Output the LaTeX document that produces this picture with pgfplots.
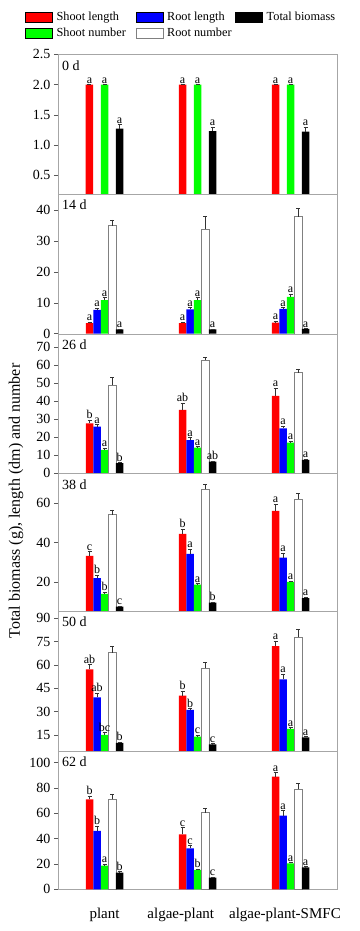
\documentclass[border=0pt]{standalone}
\usepackage{fontspec}
\setmainfont{Liberation Serif}
\usepackage{pgfplots}
\usepackage{pgfplotstable}
\pgfplotsset{compat=1.18}
\definecolor{cR}{RGB}{255,0,0}
\definecolor{cB}{RGB}{0,0,255}
\definecolor{cG}{RGB}{0,255,0}

% x: 0 plant, 1 algae-plant, 2 algae-plant-SMFC
\pgfplotstableread{
x sl sle sll sn sne snl bm bme bml
0 2.0 0 a 2.0 0 a 1.27 0.07 a
1 2.0 0 a 2.0 0 a 1.23 0.07 a
2 2.0 0 a 2.0 0 a 1.22 0.08 a
}\dA
\pgfplotstableread{
x sl sle sll rl rle rll sn sne snl rn rne bm bme bml
0 3.4 0.4 a 7.7 0.6 a 10.9 0.8 a 35.0 1.8 1.4 0.1 a
1 3.4 0.4 a 7.9 0.5 a 10.9 0.8 a 33.9 4.1 1.4 0.1 a
2 3.6 0.5 a 8.0 0.5 a 11.9 0.9 a 37.9 2.7 1.6 0.1 a
}\dB
\pgfplotstableread{
x sl sle sll rl rle rll sn sne snl rn rne bm bme bml
0 27.8 1.9 b  26.0 1.0 a 13.0 1.0 a 49.0 4.4 5.6 0.5 b
1 35.2 3.8 ab 18.5 1.5 a 14.3 0.7 a 63.1 1.5 6.5 0.4 ab
2 43.0 4.3 a  25.0 1.2 a 17.0 0.8 a 56.0 2.0 7.4 0.4 a
}\dC
\pgfplotstableread{
x sl sle sll rl rle rll sn sne snl rn rne bm bme bml
0 33.2 2.2 c 21.9 1.6 b 13.9 0.8 b 54.2 2.4 7.4 0.4 c
1 44.4 2.4 b 34.2 2.4 a 18.6 0.5 a 67.1 2.5 9.5 0.3 b
2 56.1 3.4 a 32.3 2.3 a 20.0 0.5 a 62.2 2.9 11.8 0.6 a
}\dD
\pgfplotstableread{
x sl sle sll rl rle rll sn sne snl rn rne bm bme bml
0 57.2 3.2 ab 39.2 2.6 ab 15.0 1.5 bc 67.9 3.9 10.0 0.4 b
1 40.3 3.0 b  31.1 1.0 b  13.9 1.0 c  57.9 3.8 9.0 0.4 c
2 72.2 3.2 a  50.8 3.4 a  18.9 0.8 a  77.8 5.1 13.5 0.6 a
}\dE
\pgfplotstableread{
x sl sle sll rl rle rll sn sne snl rn rne bm bme bml
0 71.1 2.6 b 46.1 3.9 b 18.7 1.1 a 71.1 4.2 13.2 0.8 b
1 43.4 5.3 c 32.4 2.0 c 15.3 0.8 b 60.5 3.7 9.2 0.6 c
2 88.9 3.2 a 58.1 4.0 a 20.5 0.8 a 79.0 4.7 17.4 0.6 a
}\dF

\tikzset{plab/.style={anchor=north west, inner sep=0pt, xshift=4pt, yshift=-6pt, font=\fontsize{14}{14}\selectfont}}
\pgfplotsset{
 panel/.style={scale only axis, width=279pt, xmin=-0.5, xmax=2.5, ybar, bar width=7.5pt,
   xtick=\empty, axis line style={gray!70}, ytick pos=left, tick align=outside,
   major tick length=4pt, tick style={gray!70!black, line width=0.5pt},
   tick label style={font=\fontsize{14}{14}\selectfont},
   /pgf/number format/assume math mode=true, anchor=north west},
 errb/.style={error bars/y dir=plus, error bars/y explicit,
   error bars/error bar style={gray!40!black, line width=0.5pt},
   error bars/error mark options={rotate=90, mark size=2pt, gray!40!black, line width=0.5pt}},
 lab/.style={nodes near coords, point meta=explicit symbolic,
   visualization depends on={\thisrow{#1} \as \myerr},
   every node near coord/.append style={shift={(axis direction cs:0,\myerr)}, anchor=south,
     inner sep=0.5pt, yshift=0.5pt, font=\fontsize{12}{12}\selectfont, text=black}},
 sL/.style={fill=cR, draw=none, bar shift=-15pt},
 rL/.style={fill=cB, draw=none, bar shift=-7.5pt},
 sN/.style={fill=cG, draw=none, bar shift=0pt},
 rN/.style={fill=white, draw=gray, bar shift=7.5pt},
 bM/.style={fill=black, draw=none, bar shift=15pt},
 sw/.style={/pgfplots/legend image code/.code={\draw[##1] (0pt,-5pt) rectangle (27pt,5pt);}},
}

\begin{document}
\begin{tikzpicture}
\path[use as bounding box] (0pt,0pt) rectangle (359pt,-931pt);

% 0 d
\begin{axis}[panel, at={(58pt,-54.3pt)}, height=139.7pt, ymin=0.19, ymax=2.5,
  ytick={0.5,1.0,1.5,2.0,2.5},
  yticklabel style={/pgf/number format/.cd, fixed, fixed zerofill, precision=1},
  legend columns=3,
  legend style={at={(-0.1183,1.303)}, anchor=north west, draw=none, fill=none,
    inner sep=0pt, row sep=5pt, font=\fontsize{12.3}{12.3}\selectfont,
    nodes={inner sep=0pt},
    /tikz/every odd column/.append style={column sep=4pt},
    /tikz/column 2/.append style={column sep=9.7pt},
    /tikz/column 4/.append style={column sep=3.7pt}},
  legend cell align=left]
\addplot[sL, errb, lab=sle, forget plot] table[x=x, y=sl, y error=sle, meta=sll] {\dA};
\addplot[sN, errb, lab=sne, forget plot] table[x=x, y=sn, y error=sne, meta=snl] {\dA};
\addplot[bM, errb, lab=bme, forget plot] table[x=x, y=bm, y error=bme, meta=bml] {\dA};
\addlegendimage{sw, fill=cR, draw=none}\addlegendentry{Shoot length}
\addlegendimage{sw, fill=cB, draw=none}\addlegendentry{Root length}
\addlegendimage{sw, fill=black, draw=none}\addlegendentry{Total biomass}
\addlegendimage{sw, fill=cG, draw=none}\addlegendentry{Shoot number}
\addlegendimage{sw, fill=white, draw=gray}\addlegendentry{Root number}
\node[plab] at (rel axis cs:0,1) {0 d};
\end{axis}

% 14 d
\begin{axis}[panel, at={(58pt,-194pt)}, height=139.7pt, ymin=0, ymax=45.2,
  ytick={0,10,20,30,40}]
\addplot[sL, errb, lab=sle] table[x=x, y=sl, y error=sle, meta=sll] {\dB};
\addplot[rL, errb, lab=rle] table[x=x, y=rl, y error=rle, meta=rll] {\dB};
\addplot[sN, errb, lab=sne] table[x=x, y=sn, y error=sne, meta=snl] {\dB};
\addplot[rN, errb] table[x=x, y=rn, y error=rne] {\dB};
\addplot[bM, errb, lab=bme] table[x=x, y=bm, y error=bme, meta=bml] {\dB};
\node[plab] at (rel axis cs:0,1) {14 d};
\end{axis}

% 26 d
\begin{axis}[panel, at={(58pt,-333.7pt)}, height=139.6pt, ymin=0, ymax=77.6,
  ytick={0,10,20,30,40,50,60,70}]
\addplot[sL, errb, lab=sle] table[x=x, y=sl, y error=sle, meta=sll] {\dC};
\addplot[rL, errb, lab=rle] table[x=x, y=rl, y error=rle, meta=rll] {\dC};
\addplot[sN, errb, lab=sne] table[x=x, y=sn, y error=sne, meta=snl] {\dC};
\addplot[rN, errb] table[x=x, y=rn, y error=rne] {\dC};
\addplot[bM, errb, lab=bme] table[x=x, y=bm, y error=bme, meta=bml] {\dC};
\node[plab] at (rel axis cs:0,1) {26 d};
\end{axis}

% 38 d
\begin{axis}[panel, at={(58pt,-473.3pt)}, height=137.7pt, ymin=5.2, ymax=75.2,
  ytick={20,40,60}]
\addplot[sL, errb, lab=sle] table[x=x, y=sl, y error=sle, meta=sll] {\dD};
\addplot[rL, errb, lab=rle] table[x=x, y=rl, y error=rle, meta=rll] {\dD};
\addplot[sN, errb, lab=sne] table[x=x, y=sn, y error=sne, meta=snl] {\dD};
\addplot[rN, errb] table[x=x, y=rn, y error=rne] {\dD};
\addplot[bM, errb, lab=bme] table[x=x, y=bm, y error=bme, meta=bml] {\dD};
\node[plab] at (rel axis cs:0,1) {38 d};
\end{axis}

% 50 d
\begin{axis}[panel, at={(58pt,-611pt)}, height=140pt, ymin=4.7, ymax=94.7,
  ytick={15,30,45,60,75,90}]
\addplot[sL, errb, lab=sle] table[x=x, y=sl, y error=sle, meta=sll] {\dE};
\addplot[rL, errb, lab=rle] table[x=x, y=rl, y error=rle, meta=rll] {\dE};
\addplot[sN, errb, lab=sne] table[x=x, y=sn, y error=sne, meta=snl] {\dE};
\addplot[rN, errb] table[x=x, y=rn, y error=rne] {\dE};
\addplot[bM, errb, lab=bme] table[x=x, y=bm, y error=bme, meta=bml] {\dE};
\node[plab] at (rel axis cs:0,1) {50 d};
\end{axis}

% 62 d
\begin{axis}[panel, at={(58pt,-751pt)}, height=138.3pt, ymin=0, ymax=109.2,
  ytick={0,20,40,60,80,100},
  xtick={0,0.82,1.94}, xticklabels={plant, algae-plant, algae-plant-SMFC},
  xtick style={draw=none},
  xticklabel style={font=\fontsize{15}{15}\selectfont, yshift=-11pt}]
\addplot[sL, errb, lab=sle] table[x=x, y=sl, y error=sle, meta=sll] {\dF};
\addplot[rL, errb, lab=rle] table[x=x, y=rl, y error=rle, meta=rll] {\dF};
\addplot[sN, errb, lab=sne] table[x=x, y=sn, y error=sne, meta=snl] {\dF};
\addplot[rN, errb] table[x=x, y=rn, y error=rne] {\dF};
\addplot[bM, errb, lab=bme] table[x=x, y=bm, y error=bme, meta=bml] {\dF};
\node[plab] at (rel axis cs:0,1) {62 d};
\end{axis}

\node[rotate=90, font=\fontsize{16}{16}\selectfont] at (16pt,-501pt) {Total biomass (g), length (dm) and number};
\end{tikzpicture}
\end{document}
